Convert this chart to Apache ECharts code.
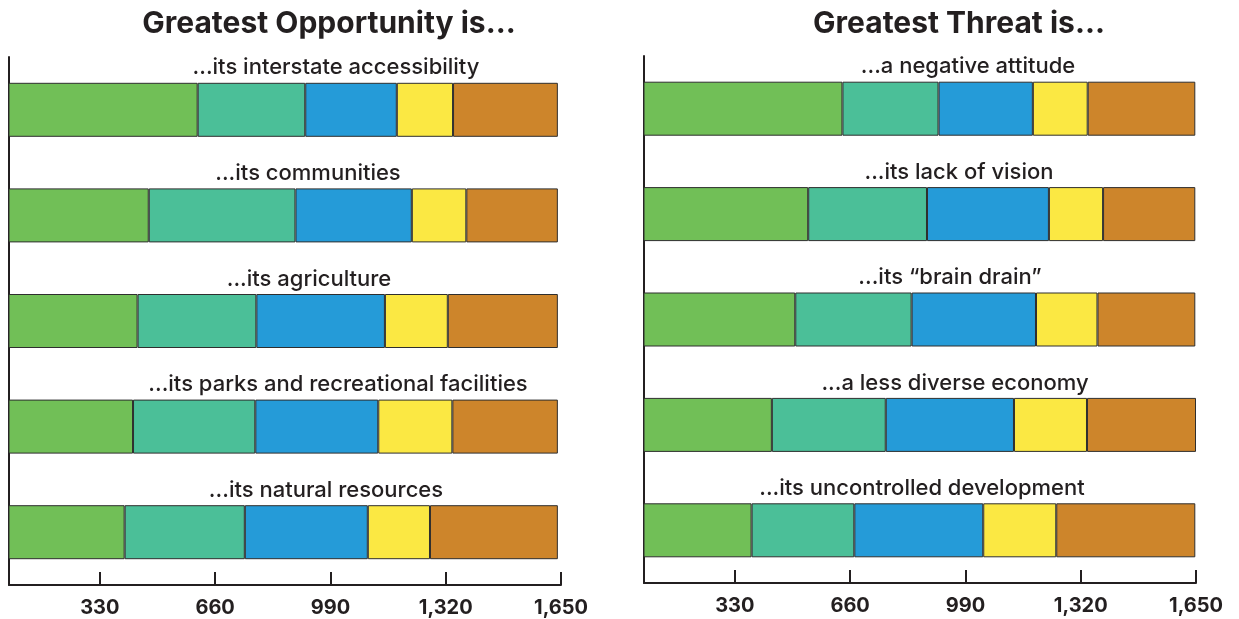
<!DOCTYPE html>
<html>
<head>
<meta charset="utf-8">
<script src="https://cdn.jsdelivr.net/npm/echarts@6/dist/echarts.min.js"></script>
<style>
  html, body { margin: 0; padding: 0; background: #ffffff; }
  #chart { width: 1239px; height: 619px; }
</style>
</head>
<body>
<div id="chart"></div>
<script>
// Survey responses: stacked counts per statement
const oppCategories = [
  '...its interstate accessibility',
  '...its communities',
  '...its agriculture',
  '...its parks and recreational facilities',
  '...its natural resources'
];
const oppLevel1 = [610, 470, 438, 425, 401];
const oppLevel2 = [308, 420, 340, 350, 344];
const oppLevel3 = [262, 333, 368, 352, 352];
const oppLevel4 = [161, 156, 180, 212, 178];
const oppLevel5 = [300, 262, 315, 302, 366];

const threatCategories = [
  '...a negative attitude',
  '...its lack of vision',
  '...its \u201cbrain drain\u201d',
  '...a less diverse economy',
  '...its uncontrolled development'
];
const threatLevel1 = [638, 540, 503, 436, 378];
const threatLevel2 = [275, 340, 333, 326, 294];
const threatLevel3 = [270, 349, 356, 367, 369];
const threatLevel4 = [157, 155, 176, 209, 209];
const threatLevel5 = [308, 264, 280, 312, 398];

const tickValues = [330, 660, 990, 1320, 1650];
const axisMin = 70;
const axisMax = 1650;

// Horizontal centre of each statement caption, in pixels
const oppCaptionX = [336, 308, 309, 338, 326];
const threatCaptionX = [968, 959, 950, 955, 922];

const levelColors = ['#71bf57', '#4bbf98', '#259bd8', '#fbe843', '#cd852b'];
const ink = '#231f20';
const fontFamily = 'Inter, "Open Sans", sans-serif';

const chart = echarts.init(document.getElementById('chart'), null, { renderer: 'canvas' });

function xAxisFor(gridIndex) {
  return {
    type: 'value', gridIndex, min: axisMin, max: axisMax,
    axisLine: { show: true, lineStyle: { color: ink, width: 2 } },
    axisTick: { show: true, inside: true, length: 13, customValues: tickValues, lineStyle: { color: ink, width: 2 } },
    axisLabel: {
      customValues: tickValues, margin: 13, color: ink, fontSize: 20, fontWeight: 700, fontFamily,
      formatter: v => v.toLocaleString('en-US')
    },
    splitLine: { show: false }
  };
}

function yAxisFor(gridIndex, cats) {
  return {
    type: 'category', gridIndex, data: cats, inverse: true,
    axisLine: { show: true, lineStyle: { color: ink, width: 2 } },
    axisTick: { show: false }, axisLabel: { show: false }, splitLine: { show: false }
  };
}

function seriesFor(gridIndex, stack, levels) {
  return levels.map((vals, i) => ({
    type: 'bar', name: 'Level ' + (i + 1), stack,
    xAxisIndex: gridIndex, yAxisIndex: gridIndex,
    data: vals, barWidth: 54,
    itemStyle: { color: levelColors[i], borderColor: '#2e2e2e', borderWidth: 1 },
    emphasis: { disabled: true }
  }));
}

chart.setOption({
  animation: false,
  backgroundColor: '#ffffff',
  title: [
    { text: 'Greatest Opportunity is...', left: 324, top: 4, textAlign: 'center',
      textStyle: { color: ink, fontSize: 30, fontWeight: 700, fontFamily } },
    { text: 'Greatest Threat is...', left: 954, top: 4, textAlign: 'center',
      textStyle: { color: ink, fontSize: 30, fontWeight: 700, fontFamily } }
  ],
  grid: [
    { left: 9, right: 678, top: 57, bottom: 34 },
    { left: 644, right: 43, top: 56, bottom: 36 }
  ],
  xAxis: [xAxisFor(0), xAxisFor(1)],
  yAxis: [yAxisFor(0, oppCategories), yAxisFor(1, threatCategories)],
  series: [
    ...seriesFor(0, 'opp', [oppLevel1, oppLevel2, oppLevel3, oppLevel4, oppLevel5]),
    ...seriesFor(1, 'threat', [threatLevel1, threatLevel2, threatLevel3, threatLevel4, threatLevel5])
  ]
});

// Statement captions sit just above each bar
function captions(gridIndex, cats, xs) {
  return cats.map((c, i) => {
    const cy = chart.convertToPixel({ yAxisIndex: gridIndex }, c);
    return {
      type: 'text', x: xs[i], y: cy - 27 - 15,
      style: { text: c, fill: ink, font: '500 22px ' + fontFamily, align: 'center', verticalAlign: 'middle' }
    };
  });
}

chart.setOption({
  graphic: [
    ...captions(0, oppCategories, oppCaptionX),
    ...captions(1, threatCategories, threatCaptionX)
  ]
});
</script>
</body>
</html>
